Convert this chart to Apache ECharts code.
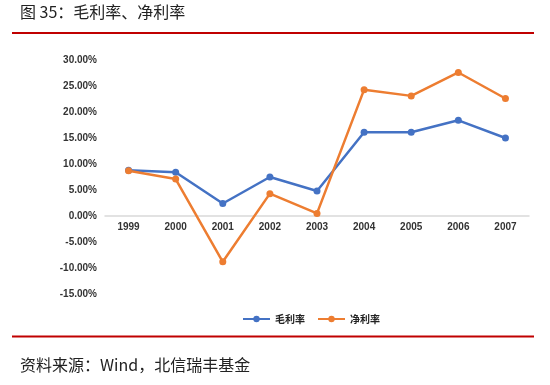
<!DOCTYPE html>
<html>
<head>
<meta charset="utf-8">
<script src="https://cdn.jsdelivr.net/npm/echarts@6/dist/echarts.min.js"></script>
<style>html,body{margin:0;padding:0;background:#fff;}#c{width:550px;height:385px;}</style>
</head>
<body>
<div id="c"></div>
<script>
const years = ['1999','2000','2001','2002','2003','2004','2005','2006','2007'];
const grossMargin = [8.8, 8.4, 2.4, 7.5, 4.8, 16.1, 16.1, 18.4, 15.0];
const netMargin = [8.7, 7.1, -8.8, 4.3, 0.5, 24.3, 23.1, 27.6, 22.6];
const seriesNames = ['毛利率', '净利率'];
const titleText = '图 35：毛利率、净利率';
const sourceText = '资料来源：Wind，北信瑞丰基金';
const yMin = -15, yMax = 30, yStep = 5;

const gridTop = 60, gridBottom = 91, H = 385;
const gridH = H - gridTop - gridBottom;
const zeroOffset = -gridH * (0 - yMin) / (yMax - yMin);

const chart = echarts.init(document.getElementById('c'), null, {renderer: 'canvas'});
const cjk = '"Noto Sans CJK SC", sans-serif';
const lat = '"Liberation Sans", Arial, sans-serif';
chart.setOption({
  animation: false,
  backgroundColor: '#fff',
  color: ['#4472C4', '#ED7D31'],
  grid: {left: 105, right: 21, top: gridTop, bottom: gridBottom, containLabel: false},
  legend: {
    data: seriesNames,
    top: 309,
    left: 237,
    itemWidth: 27,
    itemHeight: 8,
    itemGap: 12,
    textStyle: {fontFamily: cjk, fontSize: 10, color: '#222', fontWeight: 'bold'}
  },
  xAxis: {
    type: 'category',
    data: years,
    boundaryGap: true,
    offset: zeroOffset,
    axisLine: {onZero: false, lineStyle: {color: '#d9d9d9', width: 1.5}},
    axisTick: {show: false},
    axisLabel: {margin: 6, fontFamily: lat, fontSize: 10, fontWeight: 'bold', color: '#333'}
  },
  yAxis: {
    type: 'value',
    min: yMin, max: yMax, interval: yStep,
    splitLine: {show: false},
    axisLine: {show: false},
    axisTick: {show: false},
    axisLabel: {
      margin: 8,
      fontFamily: lat, fontSize: 10, fontWeight: 'bold', color: '#333',
      formatter: v => v.toFixed(2) + '%'
    }
  },
  series: [
    {name: seriesNames[0], type: 'line', data: grossMargin, symbol: 'circle', symbolSize: 7, lineStyle: {width: 2.5}},
    {name: seriesNames[1], type: 'line', data: netMargin, symbol: 'circle', symbolSize: 7, lineStyle: {width: 2.5}}
  ],
  graphic: [
    {type: 'text', left: 20, top: 4, style: {text: titleText, font: '16px ' + cjk, fill: '#222'}},
    {type: 'rect', shape: {x: 12, y: 32, width: 522, height: 2}, style: {fill: '#C00000'}},
    {type: 'rect', shape: {x: 12, y: 335.5, width: 522, height: 2}, style: {fill: '#C00000'}},
    {type: 'text', left: 20, top: 357, style: {text: sourceText, font: '16px ' + cjk, fill: '#222'}}
  ]
});
</script>
</body>
</html>
